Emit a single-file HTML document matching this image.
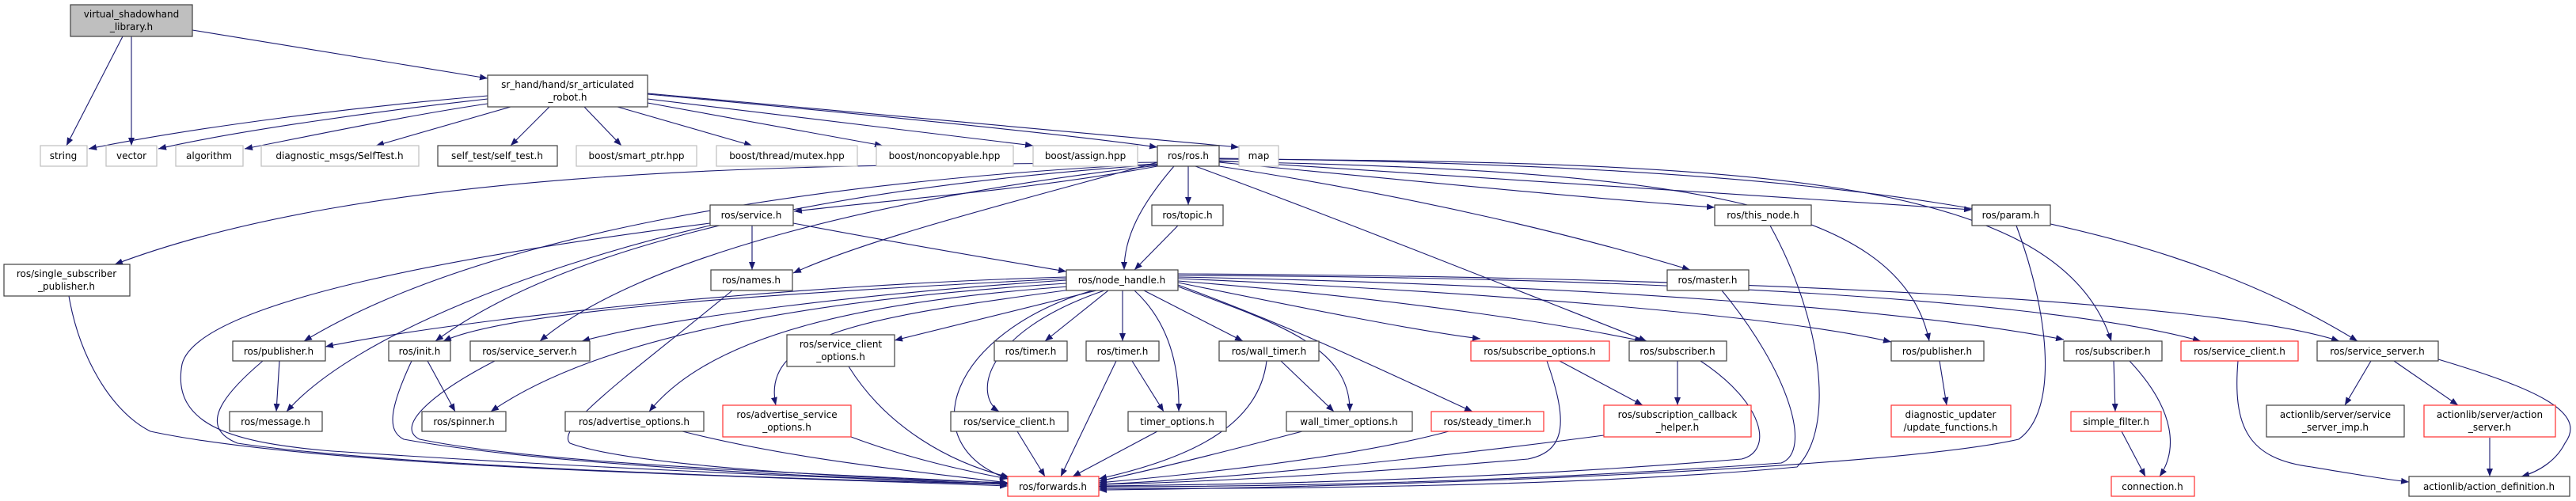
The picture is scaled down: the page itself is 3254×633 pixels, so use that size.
<!DOCTYPE html>
<html><head><meta charset="utf-8"><style>
html,body{margin:0;padding:0;background:#fff;width:3254px;height:633px;overflow:hidden}
svg text{font-family:"DejaVu Sans","Liberation Sans",sans-serif;font-size:12px;fill:#000;text-anchor:middle}
.e{fill:none;stroke:#191970;stroke-width:1.1}
.n{fill:#fff;stroke:#404040;stroke-width:1.2}
.g{fill:#fff;stroke:#bfbfbf;stroke-width:1.2}
.r{fill:#fff;stroke:#ff3030;stroke-width:1.2}
</style></head><body>
<svg width="3254" height="633" viewBox="0 0 3254 633" xmlns="http://www.w3.org/2000/svg">
<defs><marker id="a" markerWidth="11" markerHeight="8" refX="10" refY="4" orient="auto" markerUnits="userSpaceOnUse"><path d="M0,0 L10,4 L0,8 z" fill="#191970"/></marker></defs>
<g class="e" marker-end="url(#a)">
<path d="M155,46 L84,184"/>
<path d="M166,46 L166,184"/>
<path d="M243,38 L616,99"/>
<path d="M616,121 C450,135 250,160 112,188"/>
<path d="M616,125 C480,140 300,165 200,188"/>
<path d="M616,131 C520,145 400,170 309,188"/>
<path d="M645,135 L475,184"/>
<path d="M694,135 L645,184"/>
<path d="M738,135 L785,184"/>
<path d="M780,135 L950,184"/>
<path d="M818,130 L1115,184"/>
<path d="M818,125 L1305,184"/>
<path d="M818,119 C1100,145 1350,170 1462,186"/>
<path d="M818,118 L1565,186"/>
<path d="M1462,210 C1300,240 1150,250 1003,267"/>
<path d="M1501,210 L1501,259"/>
<path d="M1483,210 C1440,260 1420,300 1420,341"/>
<path d="M1488,285 L1433,341"/>
<path d="M1002,282 C1150,310 1300,335 1347,343"/>
<path d="M950,285 L950,341"/>
<path d="M1462,205 C1300,250 1100,300 1002,345"/>
<path d="M897,285 C700,330 450,420 362,520"/>
<path d="M1462,205 C1100,210 500,200 145,334"/>
<path d="M1462,207 C1000,230 600,300 384,431"/>
<path d="M1462,208 C1000,240 700,320 550,431"/>
<path d="M1462,209 C1100,250 800,330 682,431"/>
<path d="M1540,210 C1800,250 2000,300 2135,341"/>
<path d="M1540,205 C1800,230 2000,250 2166,262"/>
<path d="M1540,203 C2000,230 2300,250 2491,265"/>
<path d="M1510,210 C1700,280 1950,380 2080,431"/>
<path d="M1540,204 C2100,215 2400,250 2437,431"/>
<path d="M1540,201 C2200,205 2600,220 2667,431"/>
<path d="M1540,200 C2300,210 2700,260 2978,431"/>
<path d="M1347,350 C1000,360 600,400 411,438"/>
<path d="M1347,352 C1000,370 650,390 560,431"/>
<path d="M1347,354 C1100,370 850,400 735,431"/>
<path d="M1347,358 C1000,380 750,430 620,520"/>
<path d="M1350,362 C1100,380 900,420 820,520"/>
<path d="M1360,365 C1100,400 960,420 980,512"/>
<path d="M1385,367 L1130,430"/>
<path d="M1380,367 C1200,420 1150,560 1273,605"/>
<path d="M1395,367 C1240,420 1230,500 1262,520"/>
<path d="M1400,367 L1320,431"/>
<path d="M1418,367 L1418,431"/>
<path d="M1433,367 C1480,410 1490,470 1489,520"/>
<path d="M1445,367 L1570,431"/>
<path d="M1488,362 C1620,410 1706,440 1705,520"/>
<path d="M1488,360 C1650,420 1750,470 1860,520"/>
<path d="M1488,357 C1650,390 1800,420 1870,428"/>
<path d="M1488,355 C1800,380 2000,415 2075,431"/>
<path d="M1488,352 C1900,370 2250,400 2389,432"/>
<path d="M1488,350 C2000,360 2400,390 2607,429"/>
<path d="M1488,348 C2100,350 2600,380 2780,431"/>
<path d="M1488,346 C2200,350 2800,380 2955,431"/>
<path d="M87,374 C100,450 140,520 190,545 C400,590 900,600 1273,614"/>
<path d="M353,456 L349,520"/>
<path d="M332,456 C280,500 250,540 300,560 C500,590 1000,605 1273,612"/>
<path d="M540,456 L575,520"/>
<path d="M520,456 C490,520 490,545 510,555 C700,590 1100,605 1273,612"/>
<path d="M625,456 C540,500 500,540 530,555 C700,590 1100,600 1273,611"/>
<path d="M897,282 C600,320 250,380 230,460 C215,540 300,560 420,570 C800,595 1100,605 1273,612"/>
<path d="M925,367 C800,470 700,540 720,560 C800,590 1100,605 1273,610"/>
<path d="M862,545 C1000,580 1150,595 1273,610"/>
<path d="M1075,552 C1150,580 1220,595 1273,605"/>
<path d="M1072,463 C1120,540 1200,585 1275,603"/>
<path d="M1285,545 L1320,602"/>
<path d="M1410,456 L1340,602"/>
<path d="M1430,456 L1470,520"/>
<path d="M1462,545 L1355,602"/>
<path d="M1618,456 L1685,520"/>
<path d="M1600,456 C1590,540 1500,580 1388,605"/>
<path d="M1645,545 C1550,570 1450,595 1388,608"/>
<path d="M1830,545 C1700,580 1500,600 1388,610"/>
<path d="M1954,456 C1980,530 1980,570 1930,580 C1700,600 1500,610 1388,612"/>
<path d="M1970,456 L2075,512"/>
<path d="M2119,456 L2119,512"/>
<path d="M2148,456 C2230,510 2240,570 2200,580 C1900,605 1600,612 1388,614"/>
<path d="M2026,550 C1800,580 1550,605 1388,612"/>
<path d="M2175,367 C2260,470 2290,570 2250,585 C1900,610 1600,615 1388,615"/>
<path d="M2236,285 C2300,400 2320,540 2270,590 C2000,615 1600,618 1388,617"/>
<path d="M2547,285 C2590,400 2600,520 2550,555 C2400,590 1800,615 1388,619"/>
<path d="M2450,456 L2459,512"/>
<path d="M2670,456 L2672,520"/>
<path d="M2690,456 C2750,520 2750,570 2728,602"/>
<path d="M2680,545 L2710,602"/>
<path d="M2827,456 C2820,540 2840,580 2920,590 C2980,600 3010,605 3043,609"/>
<path d="M2995,456 L2962,512"/>
<path d="M3024,456 L3105,512"/>
<path d="M3080,454 C3200,490 3270,520 3240,560 C3230,580 3210,595 3185,602"/>
<path d="M3145,553 L3145,602"/>
</g>
<!-- nodes -->
<rect x="89" y="6" width="154" height="40" fill="#bfbfbf" stroke="#404040" stroke-width="1.2"/>
<text x="166" y="22">virtual_shadowhand</text><text x="166" y="38">_library.h</text>
<rect class="n" x="616" y="95" width="202" height="40"/><text x="717" y="111">sr_hand/hand/sr_articulated</text><text x="717" y="127">_robot.h</text>
<rect class="g" x="51" y="184" width="59" height="26"/><text x="80" y="201">string</text>
<rect class="g" x="134" y="184" width="64" height="26"/><text x="166" y="201">vector</text>
<rect class="g" x="222" y="184" width="85" height="26"/><text x="264" y="201">algorithm</text>
<rect class="g" x="330" y="184" width="199" height="26"/><text x="429" y="201">diagnostic_msgs/SelfTest.h</text>
<rect class="n" x="553" y="184" width="151" height="26"/><text x="628" y="201">self_test/self_test.h</text>
<rect class="g" x="728" y="184" width="152" height="26"/><text x="804" y="201">boost/smart_ptr.hpp</text>
<rect class="g" x="905" y="184" width="178" height="26"/><text x="994" y="201">boost/thread/mutex.hpp</text>
<rect class="g" x="1107" y="184" width="173" height="26"/><text x="1193" y="201">boost/noncopyable.hpp</text>
<rect class="g" x="1305" y="184" width="132" height="26"/><text x="1371" y="201">boost/assign.hpp</text>
<rect class="n" x="1462" y="184" width="78" height="26"/><text x="1501" y="201">ros/ros.h</text>
<rect class="g" x="1565" y="184" width="50" height="26"/><text x="1590" y="201">map</text>
<rect class="n" x="897" y="259" width="105" height="26"/><text x="949" y="276">ros/service.h</text>
<rect class="n" x="1455" y="259" width="90" height="26"/><text x="1500" y="276">ros/topic.h</text>
<rect class="n" x="2166" y="259" width="122" height="26"/><text x="2227" y="276">ros/this_node.h</text>
<rect class="n" x="2491" y="259" width="99" height="26"/><text x="2540" y="276">ros/param.h</text>
<rect class="n" x="5" y="334" width="159" height="40"/><text x="84" y="350">ros/single_subscriber</text><text x="84" y="366">_publisher.h</text>
<rect class="n" x="898" y="341" width="103" height="26"/><text x="949" y="358">ros/names.h</text>
<rect class="n" x="1347" y="341" width="141" height="26"/><text x="1417" y="358">ros/node_handle.h</text>
<rect class="n" x="2106" y="341" width="103" height="26"/><text x="2157" y="358">ros/master.h</text>
<rect class="n" x="294" y="431" width="117" height="25"/><text x="352" y="448">ros/publisher.h</text>
<rect class="n" x="491" y="431" width="78" height="25"/><text x="530" y="448">ros/init.h</text>
<rect class="n" x="594" y="431" width="151" height="25"/><text x="669" y="448">ros/service_server.h</text>
<rect class="n" x="994" y="423" width="136" height="40"/><text x="1062" y="439">ros/service_client</text><text x="1062" y="455">_options.h</text>
<rect class="n" x="1256" y="431" width="92" height="25"/><text x="1302" y="448">ros/timer.h</text>
<rect class="n" x="1372" y="431" width="92" height="25"/><text x="1418" y="448">ros/timer.h</text>
<rect class="n" x="1540" y="431" width="126" height="25"/><text x="1603" y="448">ros/wall_timer.h</text>
<rect class="r" x="1858" y="431" width="175" height="25"/><text x="1945" y="448">ros/subscribe_options.h</text>
<rect class="n" x="2058" y="431" width="123" height="25"/><text x="2119" y="448">ros/subscriber.h</text>
<rect class="n" x="2389" y="431" width="117" height="25"/><text x="2447" y="448">ros/publisher.h</text>
<rect class="n" x="2607" y="431" width="124" height="25"/><text x="2669" y="448">ros/subscriber.h</text>
<rect class="r" x="2755" y="431" width="148" height="25"/><text x="2829" y="448">ros/service_client.h</text>
<rect class="n" x="2927" y="431" width="153" height="25"/><text x="3003" y="448">ros/service_server.h</text>
<rect class="n" x="290" y="520" width="117" height="25"/><text x="348" y="537">ros/message.h</text>
<rect class="n" x="533" y="520" width="106" height="25"/><text x="586" y="537">ros/spinner.h</text>
<rect class="n" x="714" y="520" width="175" height="25"/><text x="801" y="537">ros/advertise_options.h</text>
<rect class="r" x="913" y="512" width="162" height="40"/><text x="994" y="528">ros/advertise_service</text><text x="994" y="544">_options.h</text>
<rect class="n" x="1201" y="520" width="148" height="25"/><text x="1275" y="537">ros/service_client.h</text>
<rect class="n" x="1425" y="520" width="124" height="25"/><text x="1487" y="537">timer_options.h</text>
<rect class="n" x="1625" y="520" width="159" height="25"/><text x="1704" y="537">wall_timer_options.h</text>
<rect class="r" x="1808" y="520" width="142" height="25"/><text x="1879" y="537">ros/steady_timer.h</text>
<rect class="r" x="2026" y="512" width="186" height="40"/><text x="2119" y="528">ros/subscription_callback</text><text x="2119" y="544">_helper.h</text>
<rect class="r" x="2389" y="512" width="151" height="40"/><text x="2464" y="528">diagnostic_updater</text><text x="2464" y="544">/update_functions.h</text>
<rect class="r" x="2616" y="520" width="114" height="25"/><text x="2673" y="537">simple_filter.h</text>
<rect class="n" x="2863" y="512" width="174" height="40"/><text x="2950" y="528">actionlib/server/service</text><text x="2950" y="544">_server_imp.h</text>
<rect class="r" x="3062" y="512" width="166" height="40"/><text x="3145" y="528">actionlib/server/action</text><text x="3145" y="544">_server.h</text>
<rect class="r" x="1273" y="602" width="115" height="25"/><text x="1330" y="619">ros/forwards.h</text>
<rect class="r" x="2667" y="602" width="105" height="25"/><text x="2719" y="619">connection.h</text>
<rect class="n" x="3043" y="602" width="203" height="25"/><text x="3144" y="619">actionlib/action_definition.h</text>
</svg>
</body></html>
